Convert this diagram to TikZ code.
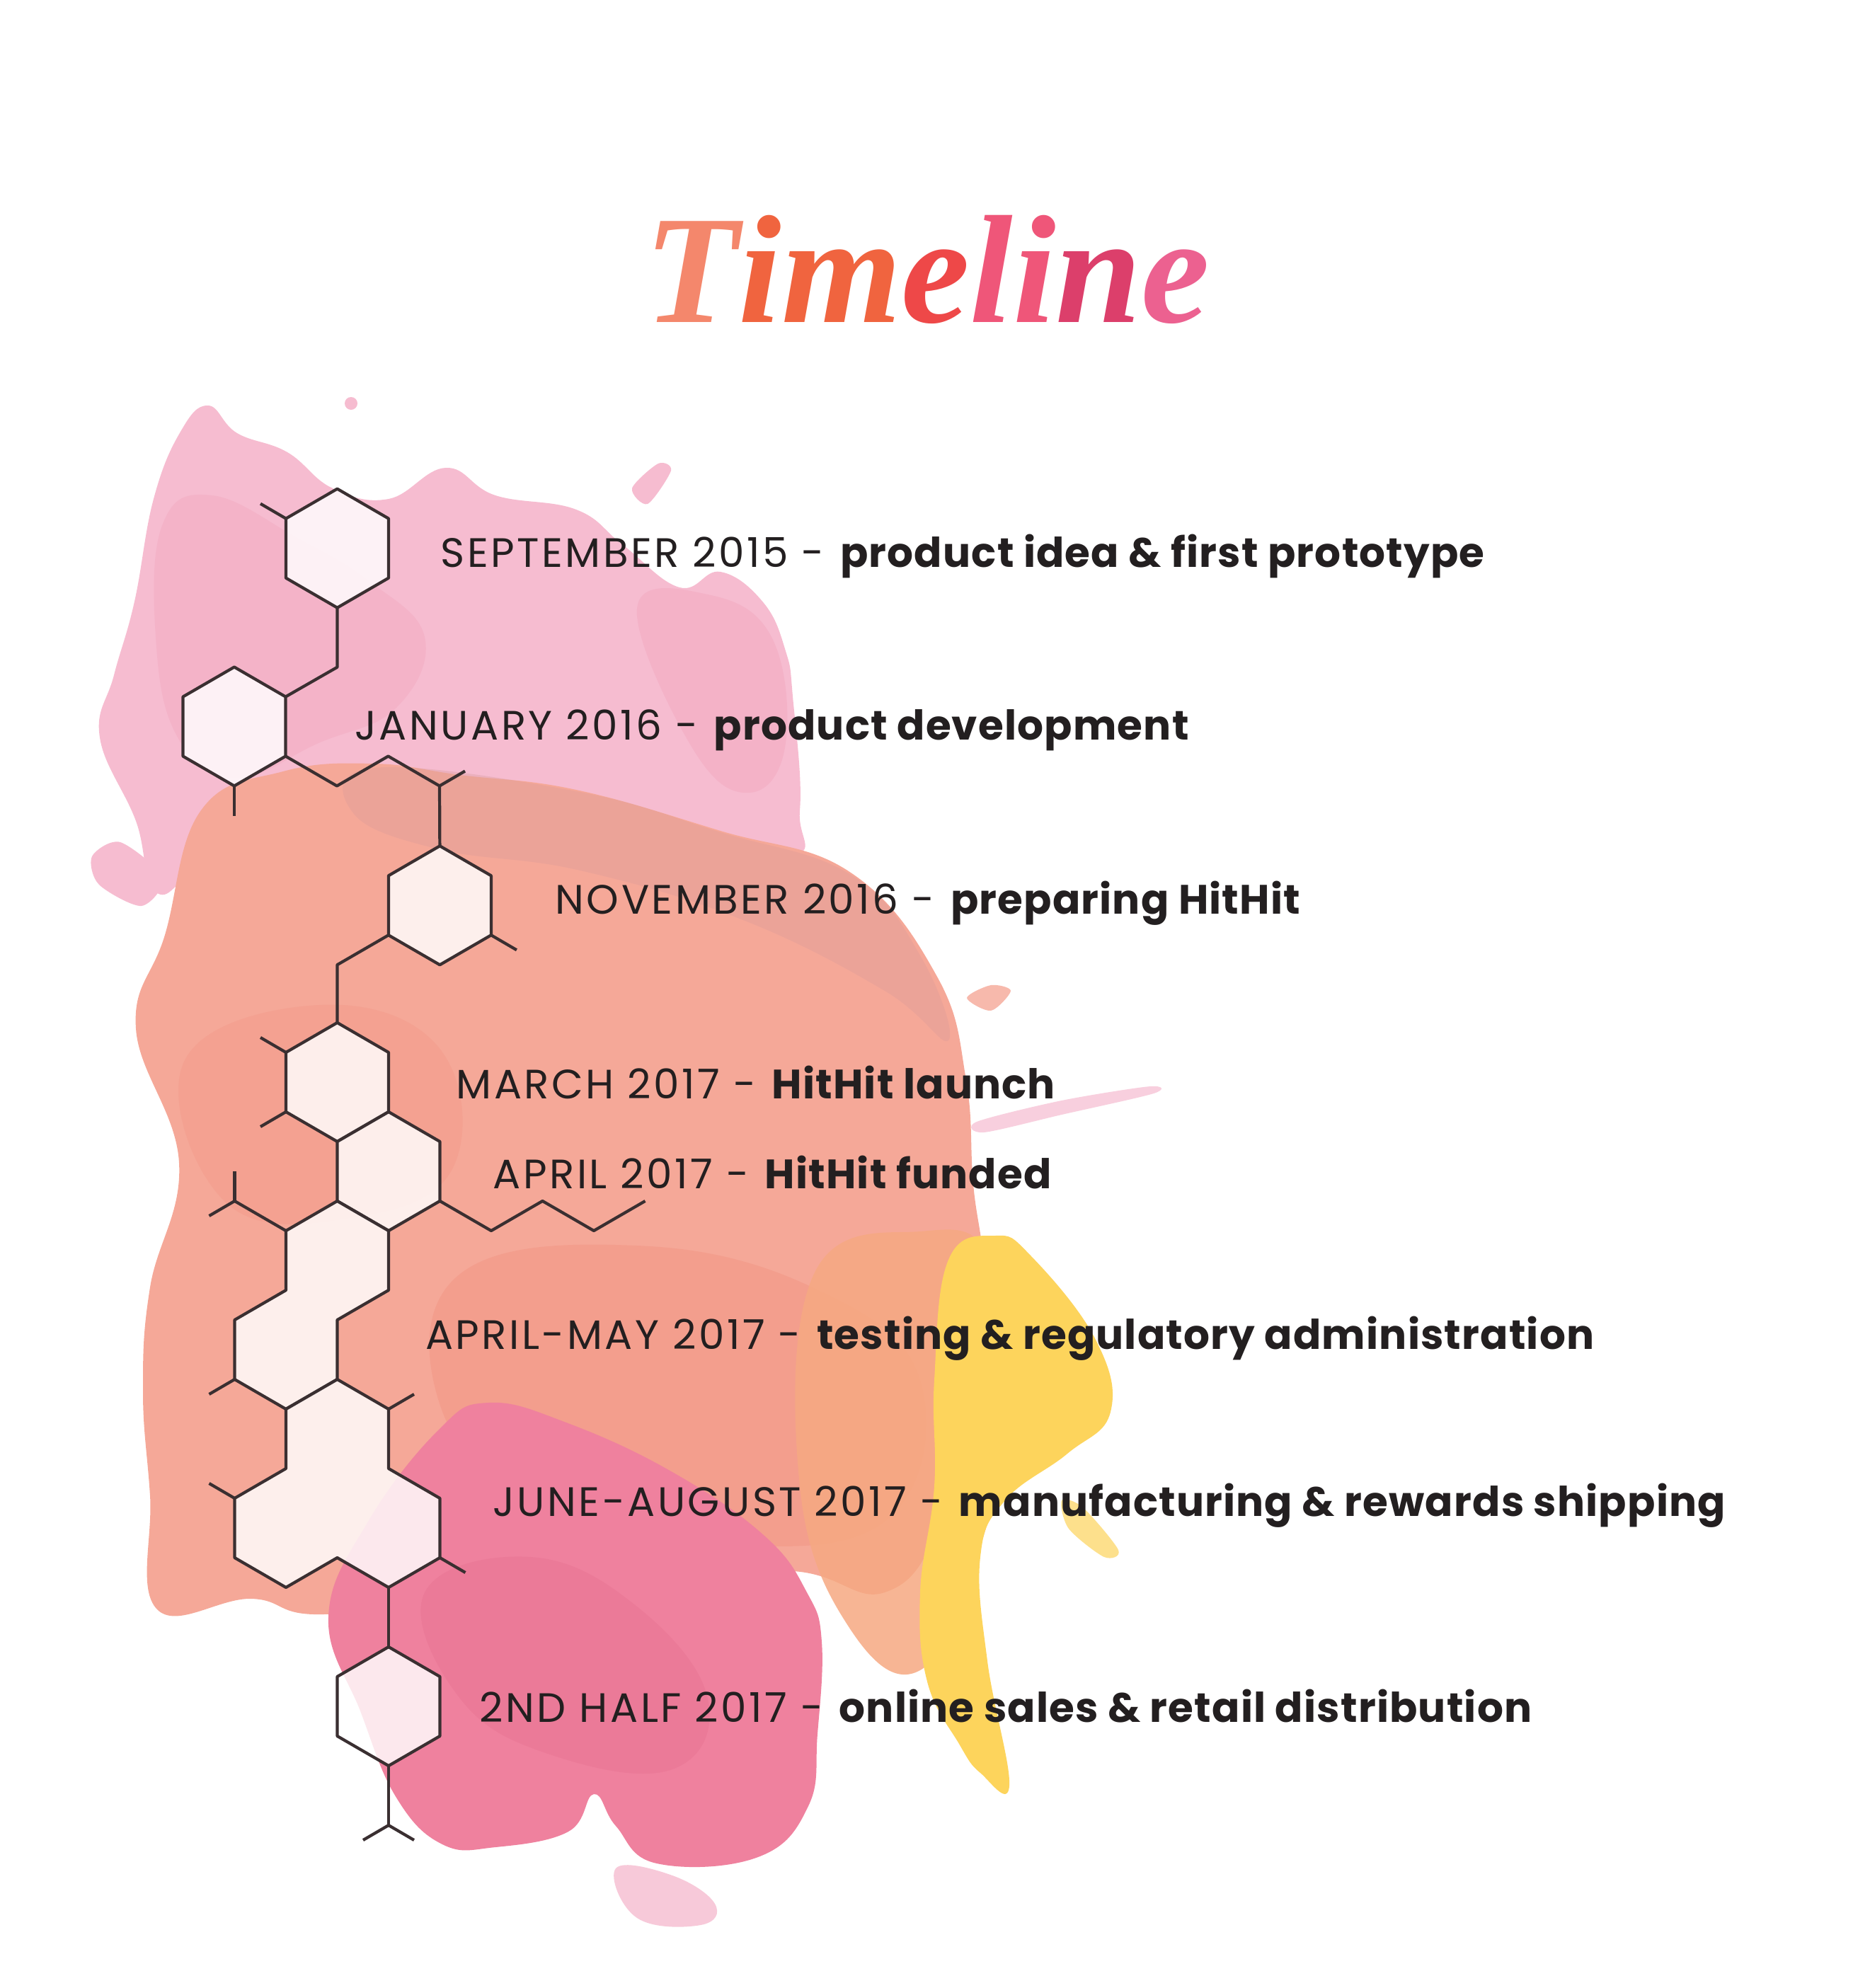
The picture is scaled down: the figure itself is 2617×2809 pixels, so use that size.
\documentclass[tikz,border=0pt]{standalone}
\usepackage{fontspec}
\setmainfont{Poppins}[LetterSpace=6, BoldFeatures={LetterSpace=2}]
\newfontfamily\titlefont{Liberation Serif}
\usetikzlibrary{calc}

\definecolor{inkc}{HTML}{231F20}
\definecolor{bondc}{HTML}{3A2F31}
\definecolor{pinkA}{HTML}{F6BCD0}
\definecolor{pinkB}{HTML}{F2A3BB}
\definecolor{salmonA}{HTML}{F5A898}
\definecolor{salmonB}{HTML}{F28F7E}
\definecolor{mauveA}{HTML}{D99A9A}
\definecolor{yellowA}{HTML}{FDD45C}
\definecolor{orangeA}{HTML}{F6A982}
\definecolor{roseA}{HTML}{EF819E}
\definecolor{roseB}{HTML}{E66F8E}
\definecolor{tA}{HTML}{F4876C}
\definecolor{tB}{HTML}{F0643F}
\definecolor{tC}{HTML}{EE4848}
\definecolor{tD}{HTML}{EF5679}
\definecolor{tE}{HTML}{DC3F6B}
\definecolor{tF}{HTML}{EC6190}

\tikzset{
  hexa/.style={draw=bondc, fill=white, fill opacity=0.82, line width=1.2pt, line join=round},
  bondline/.style={draw=bondc, line width=1.2pt, line join=round},
  datetext/.style={anchor=base west, text=inkc, inner sep=0pt, font=\fontsize{16.5}{20}\selectfont},
}

% corner points of a pointy-top cell
\newcommand{\hexpts}[2]{%
  \coordinate (#2) at (#1);
  \coordinate (#2-t) at ($(#2)+(0,-84)$);
  \coordinate (#2-ur) at ($(#2)+(72.5,-42)$);
  \coordinate (#2-lr) at ($(#2)+(72.5,42)$);
  \coordinate (#2-b) at ($(#2)+(0,84)$);
  \coordinate (#2-ll) at ($(#2)+(-72.5,42)$);
  \coordinate (#2-ul) at ($(#2)+(-72.5,-42)$);}
\newcommand{\hexcell}[2]{%
  \hexpts{#1}{#2}
  \draw[hexa] (#2-t) -- (#2-ur) -- (#2-lr) -- (#2-b) -- (#2-ll) -- (#2-ul) -- cycle;}

\begin{document}
\begin{tikzpicture}[x=0.01cm, y=-0.01cm]
\useasboundingbox (0,0) rectangle (2617,2809);
\fill[white] (0,0) rectangle (2617,2809);

% watercolour background
\fill[pinkA] plot[smooth cycle, tension=0.7] coordinates {(217,705) (255,610) (294,573) (335,612) (406,639) (470,690) (549,705) (630,661) (700,700) (814,720) (880,770) (960,830) (1018,808) (1079,852) (1110,920) (1120,984) (1130,1145) (1100,1210) (800,1160) (500,1170) (300,1220) (222,1262) (192,1160) (141,1042) (161,954) (190,850)};
\fill[pinkB, opacity=0.35] plot[smooth cycle, tension=0.7] coordinates {(230,740) (300,700) (420,760) (520,820) (600,900) (560,1000) (450,1050) (330,1100) (250,1040) (220,900)};
\fill[pinkB, opacity=0.4] plot[smooth cycle, tension=0.7] coordinates {(900,860) (1000,840) (1090,900) (1110,1050) (1060,1120) (980,1060)};
\fill[pinkA] (496,570) circle (9);
\fill[pinkA] plot[smooth cycle] coordinates {(893,690) (930,655) (948,665) (915,712)};
\fill[pinkA] plot[smooth cycle] coordinates {(130,1210) (170,1190) (230,1240) (200,1280) (140,1250)};
\fill[salmonA] plot[smooth cycle, tension=0.7] coordinates {(284,1145) (400,1090) (528,1079) (650,1095) (814,1116) (1018,1174) (1202,1233) (1324,1380) (1365,1526) (1375,1673) (1390,1800) (1380,1950) (1330,2150) (1250,2250) (1120,2220) (900,2230) (700,2250) (457,2281) (355,2259) (222,2274) (212,2113) (202,1966) (212,1819) (253,1643) (192,1453) (233,1321)};
\fill[mauveA, opacity=0.35] plot[smooth cycle, tension=0.7] coordinates {(528,1085) (814,1118) (1018,1176) (1202,1236) (1300,1350) (1340,1470) (1250,1400) (1050,1300) (820,1230) (620,1200) (500,1150)};
\fill[salmonB, opacity=0.25] plot[smooth cycle, tension=0.7] coordinates {(260,1500) (450,1420) (620,1480) (640,1650) (500,1720) (320,1700)};
\fill[salmonB, opacity=0.4] plot[smooth cycle, tension=0.7] coordinates {(650,1800) (900,1760) (1150,1820) (1300,1950) (1250,2150) (1000,2180) (750,2120) (620,1980)};
\fill[salmonA, opacity=0.8] plot[smooth cycle] coordinates {(1366,1410) (1400,1392) (1428,1400) (1400,1428)};
\fill[pinkA, opacity=0.7] plot[smooth cycle] coordinates {(1380,1585) (1500,1555) (1625,1535) (1630,1545) (1500,1575) (1390,1600)};
\fill[orangeA, opacity=0.85] plot[smooth cycle, tension=0.7] coordinates {(1150,1800) (1300,1740) (1400,1780) (1420,2000) (1380,2200) (1300,2360) (1200,2300) (1130,2100)};
\fill[yellowA] plot[smooth cycle, tension=0.7] coordinates {(1340,1780) (1406,1746) (1457,1775) (1548,1893) (1569,1995) (1508,2054) (1420,2120) (1385,2200) (1395,2347) (1426,2523) (1385,2505) (1355,2464) (1310,2376) (1300,2250) (1320,2100) (1320,1950)};
\fill[yellowA, opacity=0.7] plot[smooth cycle] coordinates {(1500,2120) (1530,2130) (1580,2190) (1560,2200) (1510,2160)};
\fill[roseA] plot[smooth cycle, tension=0.7] coordinates {(464,2285) (520,2150) (620,2020) (690,1982) (800,2010) (950,2080) (1080,2170) (1140,2250) (1161,2320) (1155,2450) (1142,2552) (1071,2624) (928,2633) (870,2580) (839,2535) (803,2588) (700,2610) (625,2606) (560,2540) (510,2420)};
\fill[roseB, opacity=0.35] plot[smooth cycle, tension=0.7] coordinates {(600,2250) (750,2200) (900,2270) (1000,2400) (950,2500) (780,2480) (650,2400)};
\fill[pinkA, opacity=0.8] plot[smooth cycle, tension=0.7] coordinates {(870,2640) (950,2650) (1010,2690) (990,2720) (900,2710)};

% molecule chain
\hexcell{476.5,774.7}{sep}
\hexcell{331,1026.5}{jan}
\hexcell{621.4,1279.3}{nov}
\hexcell{476.5,1529}{mar}
\hexcell{549,1655}{apr}
\hexpts{476.5,1781}{amu}
\hexpts{404,1907}{aml}
\draw[hexa] (amu-t) -- (amu-ur) -- (amu-lr) -- (amu-b) -- (aml-lr) -- (aml-b) -- (aml-ll) -- (aml-ul) -- (aml-t) -- (amu-ul) -- cycle;
\hexpts{476.5,2033}{jat}
\hexpts{404,2159}{jal}
\hexpts{549,2159}{jar}
\draw[hexa] (jat-t) -- (jat-ur) -- (jat-lr) -- (jar-ur) -- (jar-lr) -- (jar-b) -- (jar-ll) -- (jal-b) -- (jal-ll) -- (jal-ul) -- (jal-t) -- (jat-ul) -- cycle;
\hexcell{549,2411}{half}

\coordinate (j1) at ($(sep-b)+(0,84)$);
\draw[bondline] (sep-b) -- (j1) -- (jan-ur);
\draw[bondline] (sep-ul) -- ++(-36,-21);
\draw[bondline] (jan-b) -- ++(0,42);
\draw[bondline] (jan-lr) -- ++(72.5,42) -- ++(72.5,-42) -- ++(72.5,42) coordinate (j2) -- (nov-t);
\draw[bondline] (j2) -- ++(36,-21);
\draw[bondline] (nov-lr) -- ++(36,21);
\draw[bondline] (nov-ll) -- ++(-72.5,42) coordinate (j3) -- (mar-t);
\draw[bondline] (mar-ul) -- ++(-36,-21);
\draw[bondline] (mar-ll) -- ++(-36,21);
\draw[bondline] (apr-lr) -- ++(72.5,42) -- ++(72.5,-42) -- ++(72.5,42) -- ++(72.5,-42);
\draw[bondline] (amu-ul) -- ++(-72.5,-42) coordinate (j4);
\draw[bondline] (j4) -- ++(0,-42);
\draw[bondline] (j4) -- ++(-36,21);
\draw[bondline] (aml-ll) -- ++(-36,21);
\draw[bondline] (jat-ur) -- ++(36,-21);
\draw[bondline] (jal-ul) -- ++(-36,-21);
\draw[bondline] (jar-lr) -- ++(36,21);
\draw[bondline] (jar-b) -- (half-t);
\draw[bondline] (half-b) -- ++(0,84) coordinate (j5);
\draw[bondline] (j5) -- ++(-36,21);
\draw[bondline] (j5) -- ++(36,21);

% title
\node[anchor=base] (title) at (1310,455) {\titlefont\bfseries\itshape\fontsize{62}{62}\selectfont
  \textcolor{tA}{T}\textcolor{tB}{i}\textcolor{tB}{m}\textcolor{tC}{e}\textcolor{tD}{l}\textcolor{tD}{i}\textcolor{tE}{n}\textcolor{tF}{e}};

% milestones
\node[datetext] (t1) at (622,801.5) {SEPTEMBER 2015 - \textbf{product idea \& first prototype}};
\node[datetext] (t2) at (501,1045) {JANUARY 2016 - \textbf{product development}};
\node[datetext] (t3) at (784,1291) {NOVEMBER 2016 - \textbf{preparing HitHit}};
\node[datetext] (t4) at (644,1552) {MARCH 2017 - \textbf{HitHit launch}};
\node[datetext] (t5) at (696,1679.6) {APRIL 2017 - \textbf{HitHit funded}};
\node[datetext] (t6) at (600.5,1906.6) {APRIL-MAY 2017 - \textbf{testing \& regulatory administration}};
\node[datetext] (t7) at (696,2142.9) {JUNE-AUGUST 2017 - \textbf{manufacturing \& rewards shipping}};
\node[datetext] (t8) at (677,2433.9) {2ND HALF 2017 - \textbf{online sales \& retail distribution}};
\end{tikzpicture}
\end{document}
